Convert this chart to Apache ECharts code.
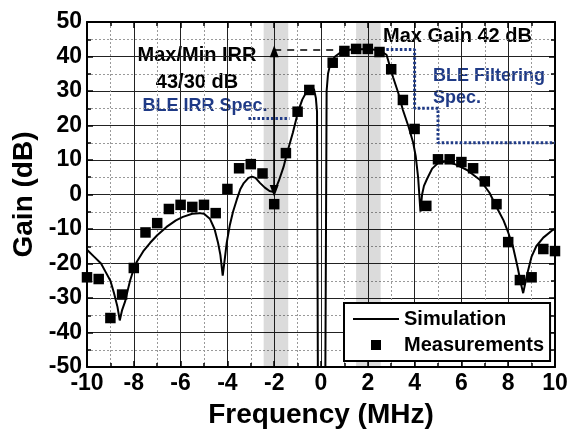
<!DOCTYPE html>
<html>
<head>
<meta charset="utf-8">
<script src="https://cdn.jsdelivr.net/npm/echarts@6/dist/echarts.min.js"></script>
<style>
  html, body { margin: 0; padding: 0; background: #fff; }
  #chart { width: 570px; height: 430px; }
</style>
</head>
<body>
<div id="chart"></div>
<script>
// Simulated gain response: frequency offset (MHz) and gain (dB)
const simFreq = [
  -10, -9.7, -9.4, -9.2, -9.0, -8.85, -8.7, -8.6, -8.5, -8.37, -8.25, -8.16, -8.0, -7.87,
  -7.6, -7.3, -7.0, -6.6, -6.2, -5.9, -5.5, -5.2, -5.0, -4.75, -4.55, -4.4, -4.3, -4.2,
  -4.1, -4.03, -3.9, -3.76, -3.6, -3.45, -3.3, -3.1, -2.95, -2.8, -2.6, -2.4, -2.2, -2.05,
  -1.95, -1.8, -1.6, -1.45, -1.2, -0.98, -0.8, -0.6, -0.45, -0.3, -0.22, -0.17, -0.13,
  0.18, 0.24, 0.3, 0.4, 0.6, 0.9, 1.3, 2.0, 2.5, 2.8, 3.08, 3.3, 3.5, 3.75, 3.94, 4.05,
  4.15, 4.2, 4.25, 4.32, 4.4, 4.53, 4.75, 5.0, 5.37, 5.8, 6.24, 6.8, 7.2, 7.5, 7.8, 8.0,
  8.2, 8.4, 8.55, 8.64, 8.75, 8.85, 9.0, 9.2, 9.5, 9.9, 10
];
const simGain = [
  -16, -18, -20, -22.5, -25, -28.5, -32.5, -36.5, -33.5, -31, -27.5, -25, -21.5, -19.5,
  -16.5, -14, -11.8, -9.4, -7.5, -6.5, -5.6, -5.4, -5.6, -7, -10, -14, -17.5, -23.5,
  -18, -14, -9, -5, -1.5, 1.5, 3.3, 4.8, 5.2, 4.8, 3.3, 2.0, 1.0, 0.8,
  1.5, 4, 8, 12, 18, 24, 27.5, 30, 31, 30.5, 28, 24, -60,
  -60, 30, 35, 38, 40, 41.5, 42, 42.2, 41.8, 40.5, 34, 29.5, 24.5, 19.5, 15, 11,
  5, 0, -5, 0, 2.5, 4.5, 7.5, 9.1, 9.6, 8.6, 7.1, 4.2, 0.5, -3.6, -7.5, -11,
  -15, -21, -26, -28.6, -25, -22, -18, -15, -12.5, -10.3, -10
];

// Measured gain
const measFreq = [
  -10, -9.5, -9, -8.5, -8, -7.5, -7, -6.5, -6, -5.5, -5, -4.5, -4, -3.5, -3, -2.5, -2,
  -1.5, -1, -0.5, 0.5, 1, 1.5, 2, 2.5, 3, 3.5, 4, 4.5, 5, 5.5, 6, 6.5, 7, 7.5, 8, 8.5,
  9, 9.5, 10
];
const measGain = [
  -24, -24.5, -35.8, -29, -21.3, -11, -8.3, -4.2, -3, -3.6, -3, -5.4, 1.6, 7.6, 8.8, 6.1, -2.8,
  12, 24, 30.3, 38.2, 41.6, 42.2, 42.2, 41.3, 36.3, 27.4, 19, -3.3, 10.2, 10.2, 9.4, 7.6, 3.8, -2.8, -13.8, -24.8,
  -24, -15.8, -16.4
];

// BLE filtering mask and IRR spec level
const filterMaskFreq = [2.6, 4, 4, 5, 5, 10];
const filterMaskGain = [42, 42, 25, 25, 15, 15];
const irrSpecFreq = [-3.1, -1.35];
const irrSpecGain = [22, 22];

// Shaded channel bands (MHz)
const shadedBands = [[-2.45, -1.4], [1.5, 2.55]];

// Max gain reference and IRR arrow
const maxGain = 42;
const maxGainLineFreq = [-2, 2.6];
const irrArrowFreq = -2;
const irrArrowGain = [1, 41.5];

// Axis ranges
const xRange = [-10, 10], xStep = 2;
const yRange = [-50, 50], yStep = 10;

const FONT = '"Liberation Sans", Arial, sans-serif';
const NAVY = '#1f3a86';

const pairs = (xs, ys) => xs.map((x, i) => [x, ys[i]]);

const baseAxis = {
  type: 'value',
  axisLine: { show: true, onZero: false, lineStyle: { color: '#000', width: 2 } },
  axisTick: { show: true, inside: true, length: 6, lineStyle: { color: '#000', width: 1.5 } },
  minorTick: { show: true, splitNumber: 2, length: 4, lineStyle: { color: '#000', width: 1.5 } },
};

const chart = echarts.init(document.getElementById('chart'), null, { renderer: 'canvas' });

chart.setOption({
  animation: false,
  backgroundColor: '#fff',
  grid: { left: 87, right: 15, top: 22, bottom: 63, containLabel: false, outerBoundsMode: 'none' },
  xAxis: [
    Object.assign({}, baseAxis, {
      min: xRange[0], max: xRange[1], interval: xStep, position: 'bottom',
      axisLabel: { fontFamily: FONT, fontWeight: 'bold', fontSize: 23, color: '#000', margin: 5 },
      splitLine: { show: true, lineStyle: { color: '#222', width: 1 } },
      minorSplitLine: { show: true, lineStyle: { color: '#999', width: 1, type: [2, 2] } },
      name: 'Frequency (MHz)', nameLocation: 'middle', nameGap: 34,
      nameTextStyle: { fontFamily: FONT, fontWeight: 'bold', fontSize: 28, color: '#000' }
    }),
    Object.assign({}, baseAxis, {
      min: xRange[0], max: xRange[1], interval: xStep, position: 'top',
      axisLabel: { show: false }, splitLine: { show: false }
    })
  ],
  yAxis: [
    Object.assign({}, baseAxis, {
      min: yRange[0], max: yRange[1], interval: yStep, position: 'left',
      axisLabel: { fontFamily: FONT, fontWeight: 'bold', fontSize: 23, color: '#000', margin: 5 },
      splitLine: { show: true, lineStyle: { color: '#222', width: 1 } },
      minorSplitLine: { show: true, lineStyle: { color: '#999', width: 1, type: [2, 2] } },
      name: 'Gain (dB)', nameLocation: 'middle', nameGap: 44,
      nameTextStyle: { fontFamily: FONT, fontWeight: 'bold', fontSize: 28, color: '#000' }
    }),
    Object.assign({}, baseAxis, {
      min: yRange[0], max: yRange[1], interval: yStep, position: 'right',
      axisLabel: { show: false }, splitLine: { show: false }
    })
  ],
  legend: {
    orient: 'vertical', left: 344, top: 303,
    padding: [6, 6, 6, 9], itemGap: 6,
    borderColor: '#000', borderWidth: 2, backgroundColor: '#fff',
    itemWidth: 46, itemHeight: 10, symbolKeepAspect: true,
    textStyle: { fontFamily: FONT, fontWeight: 'bold', fontSize: 20, color: '#000' },
    data: [
      { name: 'Simulation', icon: 'path://M0,0L46,0L46,2L0,2Z', itemStyle: { color: '#000' } },
      { name: 'Measurements', icon: 'path://M0,0L10,0L10,10L0,10Z', itemStyle: { color: '#000' } }
    ]
  },
  series: [
    {
      name: 'Simulation', type: 'line', data: pairs(simFreq, simGain),
      showSymbol: false, symbol: 'none', smooth: false, clip: true,
      lineStyle: { color: '#000', width: 2 }, itemStyle: { color: '#000' },
      z: 3,
      markArea: {
        silent: true,
        itemStyle: { color: 'rgba(0,0,0,0.14)' },
        data: shadedBands.map(b => [{ xAxis: b[0] }, { xAxis: b[1] }])
      }
    },
    {
      name: 'Measurements', type: 'scatter', data: pairs(measFreq, measGain),
      symbol: 'rect', symbolSize: 10.5,
      itemStyle: { color: '#000', opacity: 1 }, z: 4
    },
    {
      name: 'BLE Filtering Spec', type: 'line', data: pairs(filterMaskFreq, filterMaskGain),
      showSymbol: false, symbol: 'none',
      lineStyle: { color: NAVY, width: 3, type: [2.5, 2] }, z: 2
    },
    {
      name: 'BLE IRR Spec', type: 'line', data: pairs(irrSpecFreq, irrSpecGain),
      showSymbol: false, symbol: 'none',
      lineStyle: { color: NAVY, width: 3, type: [2.5, 2] }, z: 2,
      markLine: {
        silent: true, animation: false,
        label: { show: false },
        data: [
          [
            { coord: [maxGainLineFreq[0], maxGain], symbol: 'none', lineStyle: { color: '#000', width: 1.5, type: [7, 6] } },
            { coord: [maxGainLineFreq[1], maxGain], symbol: 'none' }
          ],
          [
            { coord: [irrArrowFreq, irrArrowGain[0]], symbol: 'triangle', symbolSize: [9, 12], lineStyle: { color: '#000', width: 1.5, type: 'solid' } },
            { coord: [irrArrowFreq, irrArrowGain[1]], symbol: 'triangle', symbolSize: [9, 12] }
          ]
        ],
        itemStyle: { color: '#000' }
      }
    }
  ],
  graphic: [
    { type: 'text', x: 197, y: 55, style: { text: 'Max/Min IRR', fill: '#000', font: 'bold 20px ' + FONT, align: 'center', verticalAlign: 'middle' } },
    { type: 'text', x: 197, y: 82, style: { text: '43/30 dB', fill: '#000', font: 'bold 20px ' + FONT, align: 'center', verticalAlign: 'middle' } },
    { type: 'text', x: 205, y: 106, style: { text: 'BLE IRR Spec.', fill: NAVY, font: 'bold 18px ' + FONT, align: 'center', verticalAlign: 'middle' } },
    { type: 'text', x: 383, y: 36, style: { text: 'Max Gain 42 dB', fill: '#000', font: 'bold 20px ' + FONT, align: 'left', verticalAlign: 'middle' } },
    { type: 'text', x: 433, y: 76, style: { text: 'BLE Filtering', fill: NAVY, font: 'bold 18px ' + FONT, align: 'left', verticalAlign: 'middle' } },
    { type: 'text', x: 433, y: 98, style: { text: 'Spec.', fill: NAVY, font: 'bold 18px ' + FONT, align: 'left', verticalAlign: 'middle' } }
  ]
});
</script>
</body>
</html>
